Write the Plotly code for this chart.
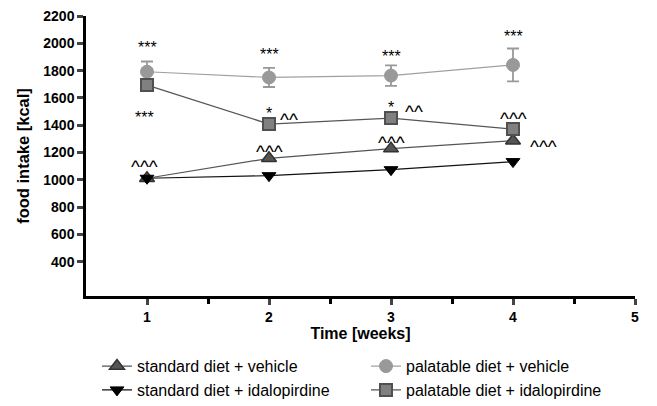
import plotly.graph_objects as go

weeks = [1, 2, 3, 4]
std_vehicle = [1012, 1158, 1229, 1287]
std_idalo = [1012, 1031, 1075, 1134]
pal_vehicle = [1792, 1750, 1764, 1842]
pal_vehicle_err = [75, 70, 75, 120]
pal_idalo = [1694, 1409, 1453, 1372]
pal_idalo_err = [40, 20, 25, 20]

y_ticks = [400, 600, 800, 1000, 1200, 1400, 1600, 1800, 2000, 2200]
x_ticks = [1, 2, 3, 4, 5]

# significance labels: (x, y, text)
sig_labels = [
    (1, 1997, "***"), (2, 1951, "***"), (3, 1934, "***"), (4, 2080, "***"),
    (0.978, 1485, "***"),
    (0.978, 1138, "^^^"),
    (2, 1512, "*"), (2.164, 1480, "^^"), (2, 1243, "^^^"),
    (3, 1556, "*"), (3.19, 1536, "^^"), (3, 1312, "^^^"),
    (4, 1488, "^^^"), (4.254, 1280, "^^^"),
]

FONT = "Liberation Sans, Arial, sans-serif"

fig = go.Figure()
fig.add_trace(go.Scatter(
    x=weeks, y=std_vehicle, name="standard diet + vehicle", mode="lines+markers",
    legend="legend",
    line=dict(color="#555555", width=1.2),
    marker=dict(symbol="triangle-up", size=13, color="#555555", line=dict(color="#333333", width=1.5)),
))
fig.add_trace(go.Scatter(
    x=weeks, y=std_idalo, name="standard diet + idalopirdine", mode="lines+markers",
    legend="legend",
    line=dict(color="#111111", width=1.2),
    marker=dict(symbol="triangle-down", size=12, color="#000000", line=dict(color="#000000", width=1)),
))
fig.add_trace(go.Scatter(
    x=weeks, y=pal_vehicle, name="palatable diet + vehicle", mode="lines+markers",
    legend="legend2",
    line=dict(color="#a0a0a0", width=1.2),
    error_y=dict(type="data", array=pal_vehicle_err, color="#999999", thickness=1.8, width=6),
    marker=dict(symbol="circle", size=13, color="#999999", line=dict(color="#999999", width=1)),
))
fig.add_trace(go.Scatter(
    x=weeks, y=pal_idalo, name="palatable diet + idalopirdine", mode="lines+markers",
    legend="legend2",
    line=dict(color="#555555", width=1.2),
    error_y=dict(type="data", array=pal_idalo_err, color="#555555", thickness=1.8, width=6),
    marker=dict(symbol="square", size=12, color="#808080", line=dict(color="#505050", width=2)),
))

for x, y, t in sig_labels:
    caret = "^" in t
    fig.add_annotation(x=x, y=y, text=t, showarrow=False, xref="x", yref="y",
                       yshift=-5 if caret else -4,
                       font=dict(family=FONT, size=19 if caret else 16, color="#000000"))

legend_common = dict(orientation="v", yanchor="top", xanchor="left",
                     font=dict(family=FONT, size=16, color="#000000"),
                     traceorder="normal", itemwidth=30, bgcolor="rgba(0,0,0,0)")
fig.update_layout(
    width=657, height=406,
    margin=dict(l=86, r=22, t=16, b=110, autoexpand=False),
    paper_bgcolor="white", plot_bgcolor="white",
    font=dict(family=FONT, color="#000000"),
    showlegend=True,
    legend=dict(x=0.02, y=-0.19, **legend_common),
    legend2=dict(x=0.51, y=-0.19, **legend_common),
)
fig.update_xaxes(
    range=[0.5, 5], tickvals=x_ticks, ticks="outside", ticklen=6, tickwidth=2.5,
    showline=True, linecolor="#000000", linewidth=2.5, showgrid=False, zeroline=False,
    tickfont=dict(family=FONT, size=14, weight="bold"),
    minor=dict(tickvals=[1.5, 2.5, 3.5, 4.5], ticks="outside", ticklen=5, tickwidth=2.5, tickcolor="#000000"),
    title=dict(text="Time [weeks]", font=dict(family=FONT, size=16, weight="bold"), standoff=2),
)
fig.update_yaxes(
    range=[150, 2200], tickvals=y_ticks, ticks="outside", ticklen=6, tickwidth=2.5,
    showline=True, linecolor="#000000", linewidth=2.5, showgrid=False, zeroline=False,
    tickfont=dict(family=FONT, size=14, weight="bold"),
    title=dict(text="food intake [kcal]", font=dict(family=FONT, size=16.5, weight="bold"), standoff=10),
)

fig.write_html("out.html")
